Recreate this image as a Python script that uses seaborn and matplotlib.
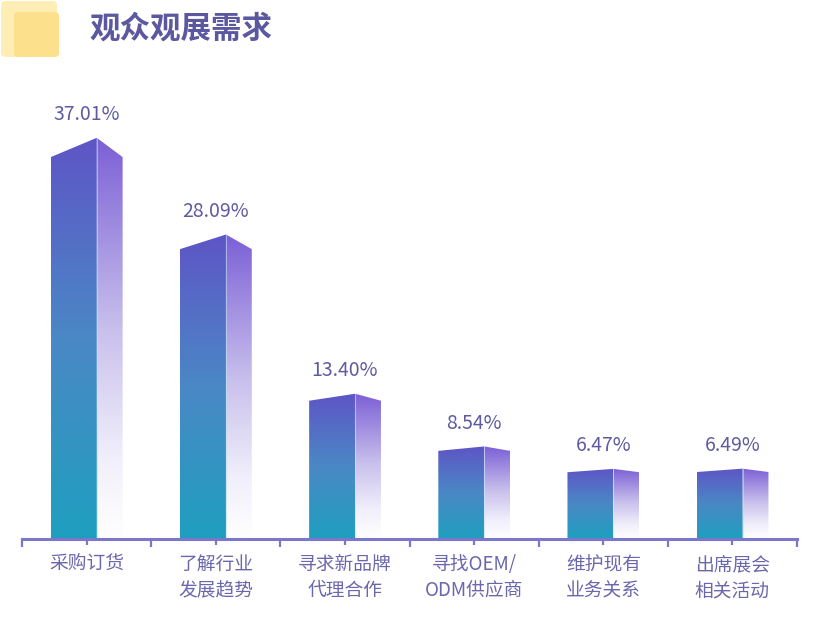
import numpy as np
import pandas as pd
import seaborn as sns
import matplotlib.pyplot as plt
from matplotlib.patches import Polygon, FancyBboxPatch
from matplotlib.colors import LinearSegmentedColormap

# data
categories = ["采购订货", "了解行业\n发展趋势", "寻求新品牌\n代理合作",
              "寻找OEM/\nODM供应商", "维护现有\n业务关系", "出席展会\n相关活动"]
shares = [37.01, 28.09, 13.40, 8.54, 6.47, 6.49]

title = "观众观展需求"

sns.set_theme(style="white")
plt.rcParams['font.family'] = ['Noto Sans CJK SC', 'DejaVu Sans']

axis_col = "#7B78CC"
label_col = "#6B67AC"
value_col = "#5F5BA0"

fig = plt.figure(figsize=(8.21, 6.27), dpi=100)
ax = fig.add_axes([22 / 821, 88 / 627, 775 / 821, 439 / 627])

df = pd.DataFrame({"category": categories, "share": shares})
sns.barplot(data=df, x="category", y="share", width=0.356, color="#5F55C5", ax=ax)

front_cmap = LinearSegmentedColormap.from_list(
    "front", ["#1E9FBF", "#4A88C5", "#5E55C6"])
side_cmap = LinearSegmentedColormap.from_list(
    "side", [(0, "#FFFFFF"), (0.2, "#F1EFFB"), (0.52, "#C9C0EC"), (1, "#7B5FD6")])
grad = np.linspace(0, 1, 256).reshape(-1, 1)

side_w = 0.2
shift = -0.099
for p in list(ax.patches):
    x0 = p.get_x() + shift
    w = p.get_width()
    h = p.get_height()
    d = 0.048 * h
    p.set_visible(False)

    front = Polygon([(x0, 0), (x0, h - d), (x0 + w, h), (x0 + w, 0)],
                    closed=True, facecolor="none", edgecolor="none")
    ax.add_patch(front)
    im = ax.imshow(grad, cmap=front_cmap, origin="lower", aspect="auto",
                   extent=(x0, x0 + w, 0, h), zorder=1)
    im.set_clip_path(front)

    side = Polygon([(x0 + w, 0), (x0 + w, h), (x0 + w + side_w, h - d), (x0 + w + side_w, 0)],
                   closed=True, facecolor="none", edgecolor="none")
    ax.add_patch(side)
    im2 = ax.imshow(grad, cmap=side_cmap, origin="lower", aspect="auto",
                    extent=(x0 + w, x0 + w + side_w, 0, h), zorder=1)
    im2.set_clip_path(side)
    # faint light edge between the two faces
    ax.plot([x0 + w, x0 + w], [0, h], color="#BFE3F5", lw=0.8, alpha=0.6, zorder=2)

for i, v in enumerate(shares):
    ax.annotate(f"{v:.2f}%", xy=(i, v), xytext=(0, 16.5), textcoords="offset points",
                ha="center", va="center", fontsize=14, color=value_col)

ax.set_xlim(-0.5, len(categories) - 0.5)
ax.set_ylim(0, 40.5)
ax.set_xlabel("")
ax.set_ylabel("")
ax.set_yticks([])
for s in ["top", "left", "right"]:
    ax.spines[s].set_visible(False)
ax.spines["bottom"].set_color(axis_col)
ax.spines["bottom"].set_linewidth(2.2)

ax.set_xticks(range(len(categories)))
ax.set_xticklabels(categories, fontsize=13.5, color=label_col, linespacing=1.3)
ax.set_xticks(np.arange(-0.5, len(categories)), minor=True)
ax.tick_params(axis="x", which="major", direction="out", length=4, width=1.6,
               color=axis_col, pad=7, bottom=True)
ax.tick_params(axis="x", which="minor", direction="out", length=6, width=1.6,
               color=axis_col, bottom=True)
for lbl in ax.get_xticklabels():
    lbl.set_verticalalignment("top")

# title icon and text
fig.patches.append(FancyBboxPatch((1 / 821, 1 - 57 / 627), 56 / 821, 56 / 627,
                                  boxstyle="round,pad=0,rounding_size=0.006",
                                  transform=fig.transFigure, facecolor="#FEEDB4",
                                  edgecolor="none"))
fig.patches.append(FancyBboxPatch((14 / 821, 1 - 57 / 627), 45 / 821, 45 / 627,
                                  boxstyle="round,pad=0,rounding_size=0.006",
                                  transform=fig.transFigure, facecolor="#FDE08B",
                                  edgecolor="none"))
fig.text(89 / 821, 1 - 29 / 627, title, fontsize=22, fontweight="bold",
         color="#5B58A0", ha="left", va="center")

fig.savefig("out.png", dpi=100)
